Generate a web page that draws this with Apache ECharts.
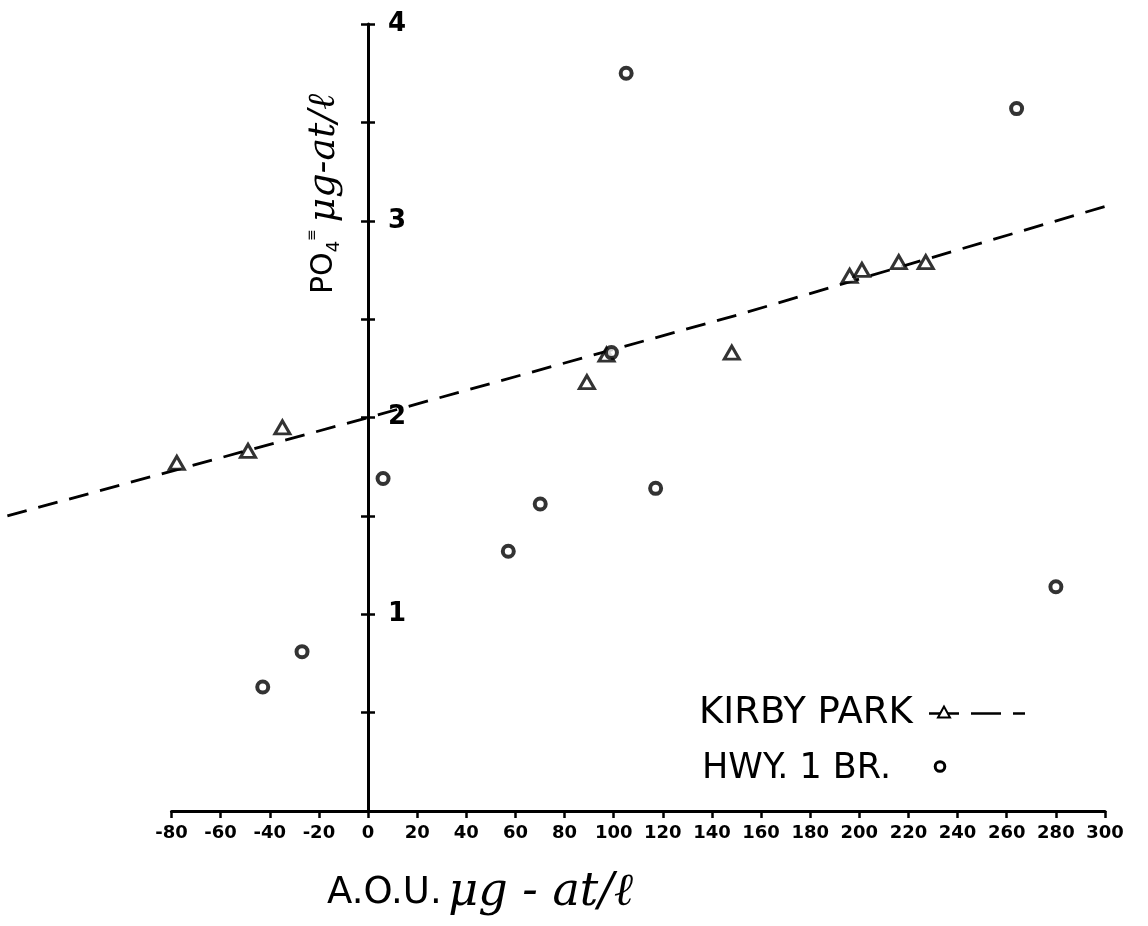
<!DOCTYPE html>
<html>
<head>
<meta charset="utf-8">
<title>PO4 vs A.O.U.</title>
<script src="https://cdn.jsdelivr.net/npm/echarts@6/dist/echarts.min.js"></script>
<style>
  html, body { margin: 0; padding: 0; background: #fff; }
  #chart { width: 1148px; height: 926px; }
</style>
</head>
<body>
<div id="chart"></div>
<script>
// Kirby Park station (triangles)
const kirbyAOU = [-78, -49, -35, 89, 97, 148, 196, 201, 216, 227];
const kirbyPO4 = [1.77, 1.83, 1.95, 2.18, 2.32, 2.33, 2.72, 2.75, 2.79, 2.79];

// Hwy. 1 bridge station (circles)
const hwyAOU = [-43, -27, 6, 57, 70, 99, 105, 117, 264, 280];
const hwyPO4 = [0.63, 0.81, 1.69, 1.32, 1.56, 2.33, 3.75, 1.64, 3.57, 1.14];

// Dashed trend line through the Kirby Park data (runs past both ends of the axis)
const trendAOU = [-147, 0, 150, 302];
const trendPO4 = [1.50, 2.00, 2.52, 3.08];

// Axis ticks
const xTicks = { min: -80, max: 300, step: 20 };
const yTicks = { min: 0, max: 4, step: 0.5 };
// data window, wider than the drawn A.O.U. axis so the trend line can overhang it
const xView = { min: -150, max: 305 };

const pairs = (xs, ys) => xs.map((x, i) => [x, ys[i]]);
const INK = '#000';
const SANS = '"DejaVu Sans", "Noto Sans", sans-serif';
const SCRIPT = '"DejaVu Serif", serif';

const W = 1148;
const frame = { left: 171.5, right: 43, top: 24, bottom: 115 };
const pxPerUnit = (W - frame.left - frame.right) / (xTicks.max - xTicks.min);
// plotting grid: same scale as the drawn axis, extended to the data window
const plotGrid = Object.assign({}, frame, {
  left: frame.left - (xTicks.min - xView.min) * pxPerUnit,
  right: frame.right - (xView.max - xTicks.max) * pxPerUnit
});
// grid starting at A.O.U. = 0, carries the PO4 labels
const zeroGrid = Object.assign({}, frame, {
  left: frame.left + (0 - xTicks.min) * pxPerUnit
});

const chart = echarts.init(document.getElementById('chart'), null, { renderer: 'canvas' });

const hiddenAxis = {
  axisLine: { show: false, onZero: false },
  axisTick: { show: false }, axisLabel: { show: false },
  splitLine: { show: false }
};
const yBase = {
  type: 'value',
  min: yTicks.min, max: yTicks.max, interval: yTicks.step,
  splitLine: { show: false }
};

chart.setOption({
  backgroundColor: '#fff',
  animation: false,
  grid: [
    Object.assign({ containLabel: false }, plotGrid),
    Object.assign({ containLabel: false }, frame),
    Object.assign({ containLabel: false }, zeroGrid)
  ],
  xAxis: [
    Object.assign({ gridIndex: 0, type: 'value', min: xView.min, max: xView.max }, hiddenAxis),
    {
      gridIndex: 1,
      type: 'value',
      min: xTicks.min, max: xTicks.max, interval: xTicks.step,
      axisLine: { show: true, onZero: false, lineStyle: { color: INK, width: 3 } },
      axisTick: { show: true, length: 7, lineStyle: { color: INK, width: 2.5 } },
      axisLabel: {
        color: INK, fontFamily: SANS, fontWeight: 'bold', fontSize: 18, margin: 13
      },
      splitLine: { show: false }
    },
    Object.assign({ gridIndex: 2, type: 'value', min: 0, max: xTicks.max }, hiddenAxis)
  ],
  yAxis: [
    Object.assign({ gridIndex: 0, type: 'value', min: yTicks.min, max: yTicks.max }, hiddenAxis),
    Object.assign({}, yBase, {
      gridIndex: 1,
      position: 'left',
      axisLine: { show: true, onZero: true, lineStyle: { color: INK, width: 3 } },
      axisTick: { show: true, length: 7, lineStyle: { color: INK, width: 2.5 } },
      axisLabel: { show: false }
    }),
    Object.assign({}, yBase, {
      gridIndex: 2,
      position: 'left',
      axisLine: { show: false, onZero: false },
      axisTick: { show: true, inside: true, length: 7, lineStyle: { color: INK, width: 2.5 } },
      axisLabel: {
        inside: true,
        color: INK, fontFamily: SANS, fontWeight: 'bold', fontSize: 26, margin: 20,
        formatter: v => (v > 0 && Number.isInteger(v)) ? String(v) : ''
      }
    })
  ],
  series: [
    {
      name: 'KIRBY PARK trend',
      type: 'line',
      xAxisIndex: 0, yAxisIndex: 0,
      data: pairs(trendAOU, trendPO4),
      symbol: 'none',
      silent: true,
      lineStyle: { color: INK, width: 2.8, type: [20, 12] },
      z: 2
    },
    {
      name: 'KIRBY PARK',
      type: 'scatter',
      xAxisIndex: 0, yAxisIndex: 0,
      data: pairs(kirbyAOU, kirbyPO4),
      symbol: 'triangle',
      symbolSize: [15, 13],
      itemStyle: { color: '#fff', borderColor: INK, borderWidth: 3 },
      z: 3
    },
    {
      name: 'HWY. 1 BR.',
      type: 'scatter',
      xAxisIndex: 0, yAxisIndex: 0,
      data: pairs(hwyAOU, hwyPO4),
      symbol: 'circle',
      symbolSize: 11,
      itemStyle: { color: '#fff', borderColor: INK, borderWidth: 4 },
      z: 4
    }
  ],
  graphic: [
    // PO4 axis title, reading upward
    {
      type: 'text',
      x: 324, y: 194,
      rotation: Math.PI / 2,
      style: {
        text: '{a|PO}{s|4}{p|≡}  {b|μg-at/ℓ}',
        align: 'center', verticalAlign: 'middle',
        fill: INK,
        rich: {
          a: { fontFamily: SANS, fontSize: 30, fill: INK },
          s: { fontFamily: SANS, fontSize: 18, fill: INK, verticalAlign: 'bottom', padding: [12, 0, 0, 0] },
          p: { fontFamily: SANS, fontSize: 14, fill: INK, verticalAlign: 'top', padding: [0, 0, 12, 0] },
          b: { fontFamily: SCRIPT, fontStyle: 'italic', fontSize: 38, fill: INK }
        }
      }
    },
    // A.O.U. axis title
    {
      type: 'text',
      x: 327, y: 893,
      style: {
        text: '{a|A.O.U.}  {b|μg - at/ℓ}',
        align: 'left', verticalAlign: 'middle',
        fill: INK,
        rich: {
          a: { fontFamily: SANS, fontSize: 37, fill: INK },
          b: { fontFamily: SCRIPT, fontStyle: 'italic', fontSize: 46, fill: INK }
        }
      }
    },
    // legend
    {
      type: 'group',
      left: 699, top: 695,
      children: [
        {
          type: 'text', x: 0, y: 18,
          style: { text: 'KIRBY PARK', fill: INK, fontFamily: SANS, fontSize: 37, verticalAlign: 'middle' }
        },
        {
          type: 'polygon',
          shape: { points: [[245, 11], [239, 22], [251, 22]] },
          style: { fill: '#fff', stroke: INK, lineWidth: 2 }
        },
        {
          type: 'line',
          shape: { x1: 230, y1: 18, x2: 326, y2: 18 },
          style: { stroke: INK, lineWidth: 2.5, lineDash: [30, 12] },
          z: -1
        },
        {
          type: 'text', x: 3, y: 73,
          style: { text: 'HWY. 1 BR.', fill: INK, fontFamily: SANS, fontSize: 35, verticalAlign: 'middle' }
        },
        {
          type: 'circle',
          shape: { cx: 241, cy: 71, r: 4.8 },
          style: { fill: '#fff', stroke: INK, lineWidth: 3 }
        }
      ]
    }
  ]
});
</script>
</body>
</html>
